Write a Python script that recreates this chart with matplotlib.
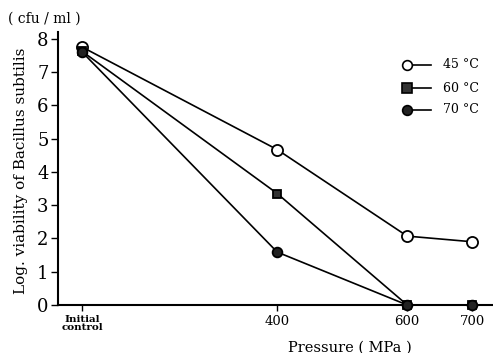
import numpy as np
import matplotlib.pyplot as plt

plt.rcParams['font.family'] = ['DejaVu Serif']

# pressure positions (MPa); initial control drawn left of 400
pressure = [100, 400, 600, 700]
tick_labels = ['Initial\ncontrol', '400', '600', '700']

labels = ['45 °C', '60 °C', '70 °C']
v45 = [7.75, 4.67, 2.07, 1.9]
v60 = [7.62, 3.35, 0.0, 0.0]
v70 = [7.6, 1.59, 0.0, 0.0]
series = [v45, v60, v70]
markers = ['o', 's', 'o']
faces = ['white', '#333333', '#222222']
sizes = [8, 6, 7]

fig = plt.figure(figsize=(4.93, 3.53), dpi=100)
ax = fig.add_axes([0.118, 0.136, 0.882, 0.773])

for vals, m, fc, ms in zip(series, markers, faces, sizes):
    ax.plot(pressure, vals, color='black', lw=1.2, marker=m, ms=ms,
            mfc=fc, mec='black', mew=1.3, clip_on=False, zorder=3)

ax.set_xlim(63, 732)
ax.set_ylim(0, 8.2)
ax.set_xticks(pressure)
ax.set_xticklabels(tick_labels)
ax.set_yticks(range(0, 9))
for lab in ax.get_xticklabels()[:1]:
    lab.set_fontsize(7.5)
    lab.set_fontweight('bold')
    lab.set_linespacing(0.95)
for lab in ax.get_xticklabels()[1:]:
    lab.set_fontsize(9.5)
ax.tick_params(axis='y', labelsize=13, length=5, width=1, pad=2)
ax.tick_params(axis='x', length=4, width=1, pad=3)

ax.spines['top'].set_visible(False)
ax.spines['right'].set_visible(False)
ax.spines['left'].set_linewidth(1.5)
ax.spines['bottom'].set_linewidth(1.5)

ax.set_ylabel('Log. viability of Bacillus subtilis', fontsize=11)
ax.yaxis.set_label_coords(-0.07, 0.49)
ax.set_xlabel('Pressure ( MPa )', fontsize=10.5)
ax.xaxis.set_label_coords(0.67, -0.13)
fig.text(0.016, 0.935, '( cfu / ml )', fontsize=10)

# legend: marker then short line, then label
rows_y = [0.88, 0.795, 0.715]
for lab, m, fc, yy in zip(labels, markers, faces, rows_y):
    ax.plot([0.802, 0.857], [yy, yy], color='black', lw=1.2,
            transform=ax.transAxes, clip_on=False)
    ax.plot([0.802], [yy], marker=m, ms=7, mfc=fc, mec='black', mew=1.2,
            transform=ax.transAxes, clip_on=False, ls='none')
    ax.text(0.885, yy, lab, transform=ax.transAxes, fontsize=9,
            va='center', ha='left')

fig.savefig('out.png', dpi=100)
